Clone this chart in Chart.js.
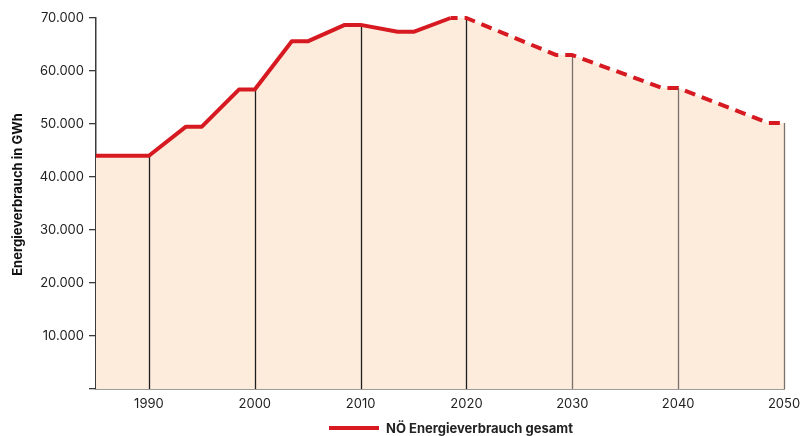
<!DOCTYPE html>
<html lang="de">
<head>
<meta charset="utf-8">
<script src="https://cdn.jsdelivr.net/npm/chart.js@4/dist/chart.umd.min.js"></script>
<style>
  html, body { margin: 0; padding: 0; background: #fff; }
  #wrap { position: relative; width: 801px; height: 436px; }
  #legend {
    position: absolute; left: 329px; top: 419px; height: 18px;
    display: flex; align-items: center;
    font-family: Inter, "Noto Sans", sans-serif; font-weight: 700; font-size: 13px; color: #222;
  }
  #legend .swatch { width: 50px; height: 4px; background: #d71a21; margin-right: 7px; }
</style>
</head>
<body>
<div id="wrap">
  <canvas id="chart" width="801" height="436"></canvas>
  <div id="legend"><span class="swatch"></span><span>NÖ Energieverbrauch gesamt</span></div>
</div>
<script>
// Energieverbrauch Niederösterreich (GWh), historisch und Projektion
const years  = [1985, 1990, 1993.5, 1995, 1998.5, 2000, 2003.5, 2005, 2008.5, 2010,
                2013.5, 2015, 2018.5, 2020, 2028.5, 2030, 2038.5, 2040, 2048.5, 2050];
const values = [44000, 44000, 49500, 49500, 56500, 56500, 65600, 65600, 68700, 68700,
                67400, 67400, 70000, 70000, 63000, 63000, 56800, 56800, 50200, 50200];
const decadeTicks = [1990, 2000, 2010, 2020, 2030, 2040, 2050];
const projectionStart = 2018.5;
const seriesLabel = 'NÖ Energieverbrauch gesamt';
const axisTitle = 'Energieverbrauch in GWh';

const RED = '#d71a21';
const FILL = '#fdecdc';
const AXIS = '#3a3a3a';
const FONT = 'Inter, "Noto Sans", sans-serif';

const fmt = v => String(Math.round(v)).replace(/\B(?=(\d{3})+(?!\d))/g, '.');
const points = years.map((yr, i) => ({ x: yr, y: values[i] }));

// vertical reference lines at each decade, from the baseline up to the curve,
// drawn on top of the area fill and below the red line
const decadeLines = {
  id: 'decadeLines',
  afterDatasetDraw(chart, args) {
    if (args.index !== 0) return;
    const { ctx, scales: { x, y } } = chart;
    ctx.save();
    ctx.lineWidth = 1.3;
    decadeTicks.forEach(yr => {
      const i = years.indexOf(yr);
      if (i < 0) return;
      const px = Math.round(x.getPixelForValue(yr)) + 0.5;
      ctx.strokeStyle = yr > 2020 ? '#7a716c' : '#1e1e1e';
      ctx.beginPath();
      ctx.moveTo(px, y.getPixelForValue(0));
      ctx.lineTo(px, y.getPixelForValue(values[i]));
      ctx.stroke();
    });
    ctx.restore();
  }
};

// rotated y axis title
const yTitle = {
  id: 'yTitle',
  afterDraw(chart) {
    const { ctx } = chart;
    const yb = chart.scales.y.getPixelForValue(0);
    ctx.save();
    ctx.translate(18, yb / 2);
    ctx.rotate(-Math.PI / 2);
    ctx.font = `700 13px ${FONT}`;
    ctx.fillStyle = '#111';
    ctx.textAlign = 'center';
    ctx.textBaseline = 'middle';
    ctx.fillText(axisTitle, 0, 0);
    ctx.restore();
  }
};

new Chart(document.getElementById('chart'), {
  type: 'line',
  data: {
    datasets: [{
      // area under the curve
      label: seriesLabel + ' (Fläche)',
      data: points,
      order: 2,
      borderWidth: 0,
      borderColor: 'rgba(0,0,0,0)',
      backgroundColor: FILL,
      fill: 'origin',
      pointRadius: 0,
      tension: 0
    }, {
      label: seriesLabel,
      data: points,
      order: 1,
      borderColor: RED,
      borderWidth: 4,
      fill: false,
      pointRadius: 0,
      tension: 0,
      borderJoinStyle: 'round',
      clip: false,
      segment: {
        borderDash: c => c.p0.parsed.x >= projectionStart ? [11, 7] : undefined,
        borderDashOffset: c => c.p0.parsed.x >= projectionStart ? 4 : 0
      }
    }]
  },
  options: {
    responsive: false,
    animation: false,
    layout: { padding: { top: 18, right: 0, bottom: 0, left: 0 } },
    plugins: {
      legend: { display: false },
      tooltip: { enabled: false }
    },
    scales: {
      x: {
        type: 'linear',
        min: 1985,
        max: 2050,
        afterBuildTicks: s => { s.ticks = decadeTicks.map(v => ({ value: v })); },
        afterFit: s => { s.height = 47; s.paddingRight = 17; s.paddingLeft = 0; },
        grid: { display: false, drawTicks: false },
        border: { display: true, color: AXIS, width: 1.5 },
        ticks: {
          padding: 7,
          color: '#222',
          font: { family: FONT, size: 13 },
          maxRotation: 0,
          callback: v => String(v)
        }
      },
      y: {
        min: 0,
        max: 70000,
        afterFit: s => { s.width = 96; },
        grid: { drawOnChartArea: false, drawTicks: true, tickLength: 7, color: AXIS, lineWidth: 1.3 },
        border: { display: true, color: AXIS, width: 1.5 },
        ticks: {
          stepSize: 10000,
          padding: 5,
          color: '#222',
          font: { family: FONT, size: 13 },
          callback: v => v === 0 ? '' : fmt(v)
        }
      }
    }
  },
  plugins: [decadeLines, yTitle]
});
</script>
</body>
</html>
